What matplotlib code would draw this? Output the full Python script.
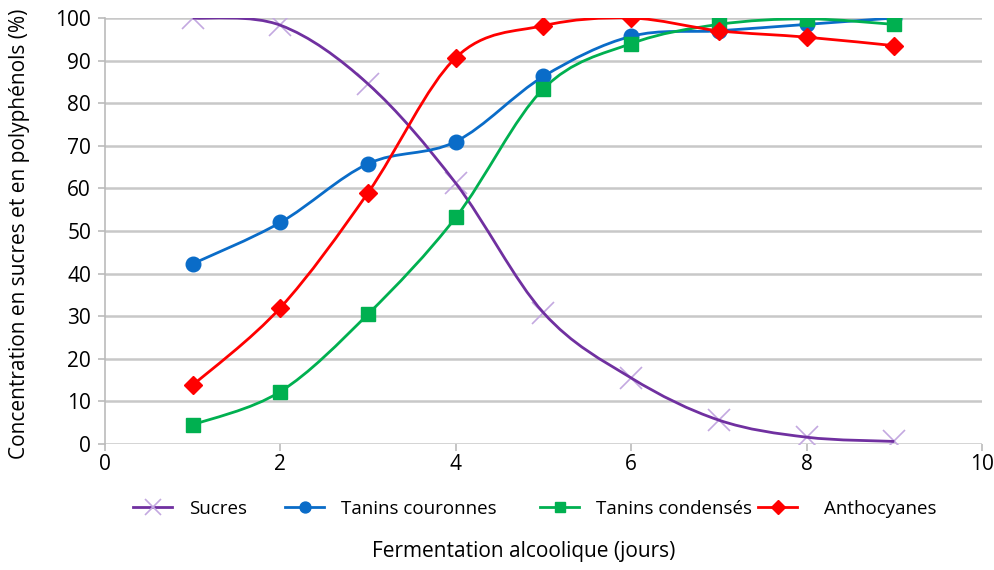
import matplotlib
matplotlib.use('Agg')
import matplotlib.pyplot as plt
import numpy as np
from matplotlib.path import Path
from matplotlib.patches import PathPatch
from matplotlib.lines import Line2D

plt.rcParams['font.family'] = ['Open Sans', 'DejaVu Sans']

# data
days = [1, 2, 3, 4, 5, 6, 7, 8, 9]
sucres = [100, 98.3, 84.5, 61.2, 30.8, 15.5, 5.6, 1.6, 0.6]
tanins_couronnes = [42.3, 52.0, 65.8, 71.0, 86.3, 95.7, 97.0, 98.5, 100]
tanins_condenses = [4.5, 12.3, 30.5, 53.2, 83.4, 94.0, 98.5, 99.8, 98.5]
anthocyanes = [13.8, 32.0, 59.0, 90.7, 98.2, 100, 97.0, 95.5, 93.5]

labels = ['Sucres', 'Tanins couronnes', 'Tanins condensés', 'Anthocyanes']
x_label = 'Fermentation alcoolique (jours)'
y_label = 'Concentration en sucres et en polyphénols (%)'


def smooth_path(xs, ys):
    # Excel-like smoothed line: cubic Bezier through the data points
    pts = np.column_stack([xs, ys]).astype(float)
    ext = np.vstack([pts[0], pts, pts[-1]])
    verts = [pts[0]]
    codes = [Path.MOVETO]
    for i in range(len(pts) - 1):
        p0, p1, p2, p3 = ext[i], ext[i + 1], ext[i + 2], ext[i + 3]
        verts += [p1 + (p2 - p0) / 6, p2 - (p3 - p1) / 6, p2]
        codes += [Path.CURVE4] * 3
    return Path(verts, codes)


fig = plt.figure(figsize=(9.95, 5.7), dpi=100)
ax = fig.add_axes([105 / 995, 1 - 444 / 570, 877 / 995, 426 / 570])

series = [
    (sucres, '#7030A0', dict(marker='x', ms=16, mew=1.2, mec='#C3A8E0')),
    (tanins_couronnes, '#0A6CC8', dict(marker='o', ms=10.5, mec='#0A6CC8', mfc='#0A6CC8')),
    (tanins_condenses, '#00B050', dict(marker='s', ms=10.5, mec='#00B050', mfc='#00B050')),
    (anthocyanes, '#FF0000', dict(marker='D', ms=9.5, mec='#FF0000', mfc='#FF0000')),
]

handles = []
for (vals, color, mk), lab in zip(series, labels):
    ax.add_patch(PathPatch(smooth_path(days, vals), facecolor='none',
                           edgecolor=color, lw=2.0, zorder=3))
    mz = 2.5 if mk['marker'] == 'x' else 4
    ax.plot(days, vals, linestyle='none', zorder=mz, **mk)
    handles.append(Line2D([], [], color=color, lw=2.0, **mk))

ax.set_xlim(0, 10)
ax.set_ylim(0, 100)
ax.set_xticks(range(0, 11, 2))
ax.set_yticks(range(0, 101, 10))
ax.grid(axis='y', color='#C8C8C8', lw=1.8)
ax.set_axisbelow(True)
for s in ['top', 'right', 'bottom']:
    ax.spines[s].set_visible(False)
ax.spines['left'].set_color('#BBBBBB')
ax.spines['left'].set_linewidth(1.2)
ax.tick_params(axis='both', colors='#BBBBBB', labelcolor='black',
               labelsize=15, length=5, width=1.2)
ax.tick_params(axis='y', pad=5)
ax.tick_params(axis='x', pad=2)

fig.text(20 / 995, 1 - 234 / 570, y_label, fontsize=15, rotation=90,
         ha='center', va='center')
fig.text(524 / 995, 1 - 552 / 570, x_label, fontsize=15, ha='center', va='center')

# one legend per entry, placed like the reference
legend_x = [133, 285, 540, 758]
text_pad = [0.9, 0.9, 0.9, 1.4]
for h, lab, lx, tp in zip(handles, labels, legend_x, text_pad):
    fig.legend([h], [lab], loc='center left', bbox_to_anchor=(lx / 995, 1 - 509 / 570),
               frameon=False, fontsize=13.5, handlelength=2.1, handletextpad=tp,
               borderpad=0, borderaxespad=0, markerscale=0.75)

fig.savefig('out.png', dpi=100)
